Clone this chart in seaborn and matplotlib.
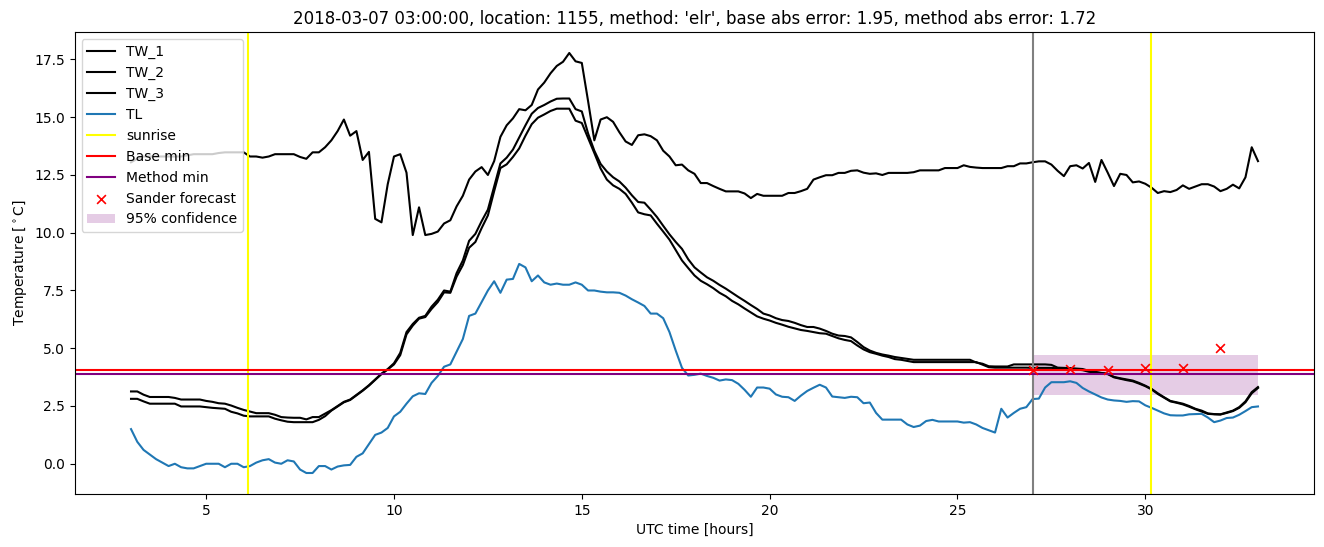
import numpy as np
import pandas as pd
import matplotlib
matplotlib.use("Agg")
import matplotlib.pyplot as plt
import seaborn as sns

# ---- data (10-minute samples from 3 h to 33 h) ----
hours = np.round(np.arange(3 * 6, 33 * 6 + 1) / 6.0, 4)

tw_1 = [
    13.05, 13.2, 13.3, 13.3, 13.3, 13.3,
    13.3, 13.3, 13.3, 13.35, 13.4, 13.4,
    13.4, 13.4, 13.45, 13.48, 13.48, 13.48,
    13.48, 13.3, 13.3, 13.25, 13.3, 13.4,
    13.4, 13.4, 13.4, 13.28, 13.2, 13.48,
    13.48, 13.7, 14.0, 14.4, 14.9, 14.2,
    14.4, 13.15, 13.5, 10.6, 10.45, 12.1,
    13.3, 13.4, 12.6, 9.9, 11.1, 9.9,
    9.95, 10.05, 10.4, 10.54, 11.14, 11.6,
    12.3, 12.65, 12.84, 12.5, 13.1, 14.15,
    14.65, 14.95, 15.35, 15.3, 15.53, 16.2,
    16.5, 16.9, 17.22, 17.4, 17.78, 17.42,
    17.35, 15.7, 14.0, 14.9, 15.0, 14.8,
    14.35, 13.95, 13.8, 14.22, 14.26, 14.18,
    14.0, 13.55, 13.3, 12.92, 12.95, 12.7,
    12.55, 12.15, 12.15, 12.02, 11.9, 11.79,
    11.79, 11.79, 11.7, 11.5, 11.68, 11.6,
    11.6, 11.6, 11.6, 11.72, 11.72, 11.8,
    11.9, 12.3, 12.4, 12.49, 12.49, 12.59,
    12.59, 12.68, 12.7, 12.6, 12.55, 12.57,
    12.5, 12.59, 12.59, 12.59, 12.59, 12.62,
    12.7, 12.7, 12.7, 12.7, 12.8, 12.8,
    12.8, 12.92, 12.85, 12.82, 12.8, 12.8,
    12.8, 12.8, 12.88, 12.88, 13.0, 13.0,
    13.05, 13.09, 13.09, 12.95, 12.68, 12.45,
    12.88, 12.92, 12.78, 13.02, 12.2, 13.15,
    12.6, 12.02, 12.55, 12.5, 12.18, 12.22,
    12.12, 11.95, 11.72, 11.8, 11.76, 11.85,
    12.05, 11.9, 12.0, 12.1, 12.1, 12.0,
    11.8, 11.9, 12.08, 11.92, 12.4, 13.7,
    13.1,
]

tw_2 = [
    3.13, 3.13, 2.99, 2.89, 2.89, 2.89,
    2.89, 2.85, 2.78, 2.78, 2.78, 2.78,
    2.72, 2.68, 2.62, 2.6, 2.52, 2.42,
    2.33, 2.26, 2.19, 2.19, 2.19, 2.12,
    2.02, 2.0, 1.99, 1.99, 1.92, 2.02,
    2.02, 2.17, 2.32, 2.5, 2.68, 2.78,
    2.98, 3.18, 3.4, 3.65, 3.9, 4.1,
    4.35, 4.8, 5.7, 6.05, 6.32, 6.4,
    6.8, 7.1, 7.5, 7.45, 8.25, 8.8,
    9.65, 9.95, 10.5, 11.0, 12.0, 13.0,
    13.25, 13.6, 14.12, 14.65, 15.15, 15.4,
    15.53, 15.68, 15.8, 15.81, 15.81, 15.35,
    15.25, 14.3, 13.55, 12.98, 12.65, 12.4,
    12.22, 11.95, 11.62, 11.33, 11.3, 11.0,
    10.68, 10.3, 9.93, 9.6, 9.3, 8.85,
    8.5, 8.28, 8.07, 7.92, 7.74, 7.58,
    7.4, 7.22, 7.05, 6.87, 6.7, 6.5,
    6.42, 6.3, 6.22, 6.18, 6.1, 6.0,
    5.92, 5.92, 5.85, 5.75, 5.63, 5.55,
    5.53, 5.47, 5.27, 5.05, 4.9, 4.8,
    4.73, 4.68, 4.62, 4.58, 4.54, 4.5,
    4.5, 4.5, 4.5, 4.5, 4.5, 4.5,
    4.5, 4.5, 4.5, 4.38, 4.33, 4.22,
    4.21, 4.21, 4.21, 4.3, 4.3, 4.3,
    4.3, 4.3, 4.3, 4.28, 4.16, 4.15,
    4.14, 4.12, 4.1, 4.02, 3.98, 3.93,
    3.9, 3.76, 3.7, 3.65, 3.6, 3.5,
    3.38, 3.24, 3.05, 2.88, 2.72, 2.66,
    2.6, 2.5, 2.38, 2.3, 2.18, 2.15,
    2.14, 2.22, 2.3, 2.45, 2.7, 3.1,
    3.32,
]

tw_3 = [
    2.81, 2.81, 2.7, 2.6, 2.6, 2.6,
    2.6, 2.6, 2.48, 2.48, 2.48, 2.48,
    2.45, 2.42, 2.4, 2.38, 2.25, 2.18,
    2.08, 2.05, 2.05, 2.05, 2.05, 1.95,
    1.88, 1.82, 1.8, 1.8, 1.8, 1.8,
    1.9, 2.06, 2.3, 2.48, 2.66, 2.76,
    2.96, 3.16, 3.38, 3.63, 3.88, 4.08,
    4.3, 4.7, 5.6, 5.98, 6.28, 6.35,
    6.7, 7.0, 7.42, 7.4, 8.1, 8.6,
    9.35, 9.6, 10.2, 10.75, 11.8, 12.8,
    12.96, 13.28, 13.65, 14.2, 14.7, 14.98,
    15.12, 15.27, 15.37, 15.37, 15.37, 14.85,
    14.75, 14.1, 13.45, 12.78, 12.3, 12.05,
    11.9, 11.68, 11.3, 10.88, 10.8, 10.75,
    10.39, 10.05, 9.7, 9.25, 8.8, 8.47,
    8.15, 7.92, 7.77, 7.6, 7.4, 7.25,
    7.05, 6.9, 6.72, 6.55, 6.38, 6.28,
    6.2, 6.1, 6.02, 5.93, 5.86, 5.79,
    5.75, 5.7, 5.65, 5.63, 5.53, 5.43,
    5.36, 5.31, 5.12, 4.95, 4.83, 4.76,
    4.68, 4.62, 4.53, 4.5, 4.45, 4.4,
    4.4, 4.4, 4.4, 4.4, 4.4, 4.4,
    4.4, 4.4, 4.4, 4.4, 4.29, 4.18,
    4.16, 4.16, 4.16, 4.16, 4.16, 4.16,
    4.15, 4.15, 4.15, 4.15, 4.13, 4.12,
    4.1, 4.08, 4.05, 3.98, 3.95, 3.92,
    3.88, 3.74, 3.68, 3.62, 3.57, 3.47,
    3.36, 3.22, 3.02, 2.86, 2.7, 2.64,
    2.57, 2.47, 2.36, 2.26, 2.16, 2.14,
    2.13, 2.2, 2.28, 2.42, 2.66, 3.05,
    3.28,
]

tl = [
    1.5, 0.95, 0.6, 0.4, 0.2, 0.05,
    -0.1, 0.0, -0.15, -0.2, -0.2, -0.1,
    0.0, 0.0, 0.0, -0.15, 0.0, 0.0,
    -0.15, -0.1, 0.05, 0.15, 0.2, 0.05,
    0.0, 0.15, 0.1, -0.25, -0.4, -0.4,
    -0.1, -0.1, -0.25, -0.12, -0.07, -0.05,
    0.3, 0.45, 0.85, 1.25, 1.35, 1.55,
    2.05, 2.25, 2.6, 2.92, 3.05, 3.02,
    3.5, 3.8, 4.2, 4.3, 4.85, 5.4,
    6.4, 6.5, 7.0, 7.5, 7.9, 7.4,
    7.97, 8.0, 8.65, 8.5, 7.9, 8.15,
    7.85, 7.75, 7.8, 7.75, 7.75, 7.85,
    7.75, 7.5, 7.5, 7.45, 7.42, 7.42,
    7.4, 7.28, 7.12, 6.98, 6.83, 6.5,
    6.5, 6.3, 5.7, 4.9, 4.15, 3.82,
    3.85, 3.9, 3.8, 3.72, 3.6, 3.65,
    3.62, 3.46, 3.2, 2.9, 3.3, 3.3,
    3.25, 3.0, 2.9, 2.88, 2.72, 2.95,
    3.15, 3.29, 3.42, 3.3, 2.91, 2.88,
    2.85, 2.9, 2.88, 2.62, 2.65, 2.2,
    1.91, 1.91, 1.91, 1.91, 1.7, 1.59,
    1.65, 1.85, 1.9, 1.83, 1.83, 1.83,
    1.83, 1.78, 1.8, 1.7, 1.55, 1.45,
    1.35, 2.38, 2.0, 2.2, 2.38, 2.45,
    2.8, 2.82, 3.3, 3.53, 3.53, 3.53,
    3.57, 3.5, 3.28, 3.13, 3.0, 2.87,
    2.78, 2.74, 2.72, 2.68, 2.71, 2.7,
    2.53, 2.42, 2.3, 2.18, 2.1, 2.09,
    2.09, 2.14, 2.15, 2.16, 2.0, 1.8,
    1.87, 1.98, 2.0, 2.12, 2.28, 2.45,
    2.48,
]

sunrise_times = [6.12, 30.15]
forecast_time = 27.0
base_min = 4.07
method_min = 3.87

sander_hours = [27, 28, 29, 30, 31, 32]
sander_values = [4.07, 4.10, 4.04, 4.15, 4.15, 5.00]

conf_hours = [27, 33]
conf_low = [2.99, 2.99]
conf_high = [4.72, 4.72]

title = ("2018-03-07 03:00:00, location: 1155, method: 'elr', "
         "base abs error: 1.95, method abs error: 1.72")

# ---- build frames ----
df = pd.DataFrame({"hours": hours, "TW_1": tw_1, "TW_2": tw_2,
                   "TW_3": tw_3, "TL": tl})
sander = pd.DataFrame({"hours": sander_hours, "value": sander_values})

# ---- plot ----
fig = plt.figure(figsize=(13.24, 5.47), dpi=100)
ax = fig.add_axes([0.0564, 0.0969, 0.9363, 0.8446])

handles = []
for name in ["TW_1", "TW_2", "TW_3"]:
    sns.lineplot(data=df, x="hours", y=name, ax=ax, color="black",
                 linewidth=1.5, label=name, legend=False)
sns.lineplot(data=df, x="hours", y="TL", ax=ax, color="#1f77b4",
             linewidth=1.5, label="TL", legend=False)

for i, t in enumerate(sunrise_times):
    ax.axvline(t, color="yellow", linewidth=1.5,
               label="sunrise" if i == 0 else "_nolegend_")
ax.axvline(forecast_time, color="grey", linewidth=1.5)
ax.axhline(base_min, color="red", linewidth=1.5, label="Base min")
ax.axhline(method_min, color="purple", linewidth=1.5, label="Method min")

sns.scatterplot(data=sander, x="hours", y="value", ax=ax, marker="x",
                color="red", s=40, linewidth=1.2, label="Sander forecast",
                legend=False, zorder=3)
ax.fill_between(conf_hours, conf_low, conf_high, color="purple",
                alpha=0.2, linewidth=0, label="95% confidence")

ax.set_title(title, fontsize=12)
ax.set_xlabel("UTC time [hours]")
ax.set_ylabel(r"Temperature [$^\circ$C]")
ax.legend(loc="upper left")

fig.savefig("out.png", dpi=100)
